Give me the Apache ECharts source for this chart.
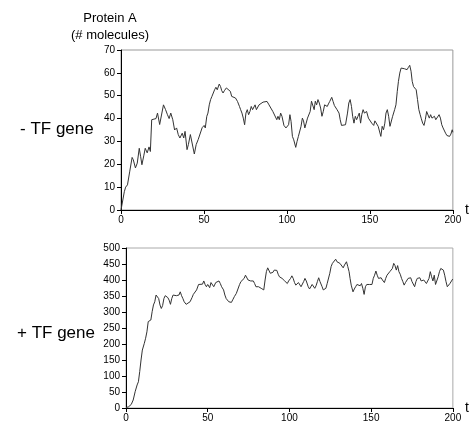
<!DOCTYPE html>
<html><head><meta charset="utf-8">
<script src="https://cdn.jsdelivr.net/npm/echarts@6/dist/echarts.min.js"></script>
<style>html,body{margin:0;padding:0;background:#fff}#c{width:470px;height:426px}</style>
</head><body><div id="c"></div>
<script>
var topT = [0,2,2.8,3.9,5.3,6.7,7.4,8.7,9.8,11,11.8,12.6,13.8,14.6,15.8,16.9,17.7,18.5,19.7,21.1,22,23.3,24.1,25.6,26.8,28,29,30,31.2,32.3,33.5,34.5,35.5,36.9,37.8,38.6,39.8,40.6,41.8,43,44.2,45.3,46.5,47.7,48.9,50.1,
50.8,51.7,52.4,53.2,54,54.8,55.6,56.4,57.2,58,59.2,60,60.7,61.5,62.3,63.5,64.7,65.9,66.7,67.8,69,70.2,71.4,72.1,72.9,73.7,74.5,75.3,76.1,76.9,77.7,78.5,79.3,80.1,80.8,81.6,82.4,83.2,84.4,85.6,86.8,88,89.2,90.3,91.5,92.7,93.9,94.6,95.4,96.2,97,98.2,99.4,
100.2,101,101.8,102.5,103.3,104.1,105.3,106.1,106.9,107.7,108.5,109.3,110,110.8,111.6,112.4,113.2,114,114.8,115.6,116.4,117.1,117.9,118.7,119.5,120.3,121.1,121.9,122.7,123.5,124.3,125,125.8,127,127.8,128.6,129.4,130.2,131.4,132.1,132.9,134.1,135.3,136.5,137.3,138.1,138.9,139.6,140.4,141.2,142,142.8,143.6,144.4,145.1,145.9,146.7,148,149.1,
150.3,151.1,152.3,153,154.2,155,155.8,156.6,157.4,158.2,159,159.7,160.5,161.3,162.1,162.9,163.7,164.9,165.7,166.5,167.2,168,168.8,169.6,170.8,171.6,172.4,173.2,174,174.8,175.5,176.3,177.1,177.9,178.7,179.5,180.3,181,181.8,182.6,183.4,184.2,185,185.8,186.6,187.4,188.1,188.9,189.7,190.5,191.7,192.5,193.3,194.1,194.8,195.6,196.4,197.2,198,198.8,199.6,200];
var topV = [0,8,10,11,17,23,22,18.4,20.5,27,23.5,19.8,24,27,25,27.6,25.6,39.5,40,40,42.4,37.4,37,46,44,41.7,40,42.4,39.5,35,35.9,33,31.5,33.6,31.5,34.4,26.4,28.6,33,32.2,24.5,28.6,30.8,31.5,36,37,
35.9,41,42.4,46,48.3,49.7,49,52.6,53.7,52.6,55.1,54,52.2,51.2,52.2,53.4,53,51.9,49.7,49.3,49,47.5,45.3,43.9,42.4,40.2,37.3,42.4,43.9,41.7,43.1,45.3,43.9,44.6,46,43.9,43.1,46,46.8,47.2,46.8,47.5,46,44.6,43.1,42.4,39.5,41,39.5,42.4,41,37,35.9,
36.2,37.3,41.7,38.7,32.2,30.7,27.4,30,32.2,31.5,36.6,40.2,39,35.9,38,40.2,41,43.1,47.6,47.9,43.9,47.6,46,48.3,46.8,44.6,41,43.1,46,46.8,45.3,46.4,47.5,49.3,47.5,45.7,45.3,43.9,42.4,39.5,37,37,37.3,42.4,46.8,48.3,45.3,41,38,41,39.5,41,42.4,38,41.7,43.9,42.4,43.1,40.2,
39.5,38,37,39,39.5,36.6,35.9,32.2,36.6,35.1,38,42.4,43.9,41,36.6,37,41,43.9,46,51.9,56.3,59.9,62.1,62.1,61.8,61.1,61.4,62.4,63.3,60.7,56.3,54,53.7,52.6,48.3,43.9,41.7,39.9,38,37,39.5,43.1,42.4,40.2,41.7,40.2,39.5,41,39.5,40.2,41.7,40.2,37.3,35.9,35.1,33.6,32.6,33.2,32.2,33.2,35.1,34];

var botT = [0,1.6,3.2,4.4,5.6,6.8,7.6,8.4,9.2,10,11.2,12,12.8,13.6,14.4,15.2,16,16.8,17.6,18.4,19.2,20,20.8,21.6,22.4,23.2,24,24.8,25.6,26.4,27.2,28,28.8,29.6,30.8,31.6,32.4,33.2,34,34.8,35.6,36.8,38,39.2,40.4,41.2,42,43.2,44.4,45.6,46.8,47.6,48.4,49.2,50,
51.2,52,52.8,53.7,54.9,55.7,56.9,57.7,58.5,59.7,60.5,61.3,62.1,62.9,63.7,64.5,65.5,66.3,67.5,68.7,69.5,70.3,71.1,72.3,73.1,73.9,74.7,75.5,76.3,77.1,77.9,78.7,79.5,80.3,81.1,81.9,82.7,83.5,84.3,85.1,85.9,86.7,87.5,88.3,89.1,89.9,90.7,91.5,92.3,93.1,93.9,94.7,95.5,96.3,97.1,97.9,98.7,99.5,
100.7,101.5,102.3,103.1,103.9,104.7,105.5,106.3,107.1,107.9,108.7,109.5,110.3,111.5,112.3,113.1,113.9,114.7,115.5,116.3,117.1,117.9,118.7,120,120.7,121.5,122.3,123.1,123.9,124.7,125.5,126.3,127.5,128.3,129.1,129.9,130.9,132.1,132.9,133.7,134.9,135.7,136.5,137.1,137.8,138.9,139.7,140.5,141.3,142.1,143.3,144.1,144.9,145.7,146.5,147.3,148.1,148.9,149.7,
150.5,151.3,152.1,152.9,153.7,154.5,155.3,156.1,156.9,158.1,158.9,159.7,160.6,161.4,162.2,163,163.8,164.6,165.4,166.2,167,167.8,168.6,169.4,170.2,171,171.8,172.6,173.4,174.2,175,175.8,176.6,177.4,178.2,179,179.8,180.6,181.4,182.2,183,183.8,184.6,185.4,186.2,187,187.8,188.6,189.4,190.2,191,191.8,192.6,193.4,194.2,195,195.8,196.6,197.4,198.2,199,199.9];
var botV = [1,4,11,25,51,72,82,114,150,181,202,218,238,270,264,275,301,322,332,353,358,342,322,311,320,342,351,348,345,337,324,342,353,348,351,345,353,363,351,342,332,324,320,332,345,355,353,369,386,389,387,397,386,379,386,
376,392,386,379,392,389,397,389,379,369,353,342,348,332,329,330,340,348,358,363,386,395,392,405,415,410,400,405,397,395,397,389,379,374,379,382,374,372,369,400,426,438,434,421,426,424,431,428,430,418,410,413,405,407,397,392,389,397,
405,413,405,392,384,379,392,395,379,374,395,405,397,379,372,376,386,384,374,382,395,407,395,379,369,363,374,389,395,421,442,452,457,465,457,459,452,449,438,447,457,442,426,405,384,363,372,379,386,384,382,389,374,355,379,386,392,386,389,
386,405,415,428,415,405,405,407,400,392,405,415,418,426,428,436,452,445,431,445,426,418,405,395,384,392,397,405,400,407,395,389,379,395,405,400,407,397,392,400,395,389,386,405,426,410,397,415,386,389,410,426,436,442,431,415,395,379,374,389,395,403];

var xTicks = {min:0, max:200, interval:50};
var topY = {min:0, max:70, interval:10};
var botY = {min:0, max:500, interval:50};

function pairs(t, v){ return t.map(function(x,i){ return [x, v[i]]; }); }

var FONT = "'Liberation Sans', Arial, sans-serif";
function xAxis(idx){
  return {gridIndex: idx, type:'value', min:xTicks.min, max:xTicks.max, interval:xTicks.interval,
    name:'t', nameLocation:'end', nameGap:4,
    nameTextStyle:{fontFamily:FONT, fontSize:14, color:'#000', verticalAlign:'middle'},
    axisLine:{show:true, onZero:false, lineStyle:{color:'#000', width:1}},
    axisTick:{show:true, length:4, lineStyle:{color:'#000'}},
    axisLabel:{fontFamily:FONT, fontSize:10, color:'#000', margin:5},
    splitLine:{show:false}};
}
function yAxis(idx, r){
  return {gridIndex: idx, type:'value', min:r.min, max:r.max, interval:r.interval,
    axisLine:{show:true, lineStyle:{color:'#000', width:1}},
    axisTick:{show:true, length:4, lineStyle:{color:'#000'}},
    axisLabel:{fontFamily:FONT, fontSize:10, color:'#000', margin:6},
    splitLine:{show:false}};
}

var chart = echarts.init(document.getElementById('c'), null, {renderer:'canvas'});
chart.setOption({
  animation:false,
  backgroundColor:'#fff',
  grid:[
    {left:121, right:11, top:50, height:160, show:true, borderColor:'#999', borderWidth:1, backgroundColor:'transparent'},
    {left:126, right:11, top:248, height:160, show:true, borderColor:'#aaa', borderWidth:1, backgroundColor:'transparent'}
  ],
  xAxis:[xAxis(0), xAxis(1)],
  yAxis:[yAxis(0, topY), yAxis(1, botY)],
  graphic:[
    {type:'text', style:{x:110, y:18, text:'Protein A', textAlign:'center', textVerticalAlign:'middle', font:"13px 'Liberation Sans', Arial, sans-serif", fill:'#000'}},
    {type:'text', style:{x:110, y:35, text:'(# molecules)', textAlign:'center', textVerticalAlign:'middle', font:"13px 'Liberation Sans', Arial, sans-serif", fill:'#000'}},
    {type:'text', style:{x:20, y:129, text:'- TF gene', textAlign:'left', textVerticalAlign:'middle', font:"17px 'Liberation Sans', Arial, sans-serif", fill:'#000'}},
    {type:'text', style:{x:17, y:333, text:'+ TF gene', textAlign:'left', textVerticalAlign:'middle', font:"17px 'Liberation Sans', Arial, sans-serif", fill:'#000'}}
  ],
  series:[
    {type:'line', xAxisIndex:0, yAxisIndex:0, data:pairs(topT, topV), showSymbol:false, lineStyle:{color:'#333', width:1}},
    {type:'line', xAxisIndex:1, yAxisIndex:1, data:pairs(botT, botV), showSymbol:false, lineStyle:{color:'#333', width:1}}
  ]
});
</script></body></html>
